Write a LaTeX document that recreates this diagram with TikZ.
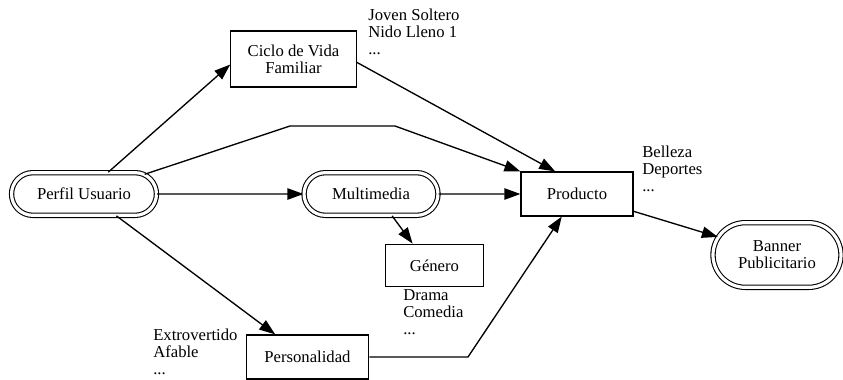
\documentclass[tikz,border=0pt]{standalone}
\usepackage{fontspec}
\setmainfont{Liberation Serif}
\usetikzlibrary{shapes.misc,arrows.meta}

\begin{document}
\begin{tikzpicture}[x=0.75pt,y=-0.75pt,
    font=\fontsize{12.5}{12.75}\selectfont,
    caja/.style={draw,line width=0.9pt,rectangle,align=center,inner sep=1pt},
    ovalo/.style={draw,line width=0.8pt,double,double distance=2.4pt,rounded rectangle,align=center,inner sep=1pt},
    flecha/.style={line width=1pt,-{Triangle[length=12pt,width=8.5pt]}},
    lista/.style={anchor=north west,align=left,inner sep=0pt}]
        \useasboundingbox (0,0) rectangle (843,379);
        % Nodos dobles
        \node[ovalo,minimum width=110.7pt,minimum height=32pt] (perfil) at (84,194) {Perfil Usuario};
        \node[ovalo,minimum width=102.5pt,minimum height=32pt] (multimedia) at (371,194) {Multimedia};
        \node[ovalo,minimum width=98pt,minimum height=48.5pt] (banner) at (777,255) {Banner\\Publicitario};
        % Cajas
        \node[caja,minimum width=94pt,minimum height=42pt] (ciclo) at (293.5,59) {Ciclo de Vida\\Familiar};
        \node[caja,minimum width=84pt,minimum height=33pt] (producto) at (577,194) {Producto};
        \node[caja,minimum width=73pt,minimum height=32pt] (genero) at (434.5,265.5) {Género};
        \node[caja,minimum width=92pt,minimum height=33pt] (personalidad) at (307.5,357) {Personalidad};
        % Valores
        \node[lista] (l_ciclo) at (368,9) {Joven Soltero\\Nido Lleno 1\\...};
        \node[lista] (l_producto) at (642,146) {Belleza\\Deportes\\...};
        \node[lista] (l_genero) at (403,289) {Drama\\Comedia\\...};
        \node[lista] (l_personalidad) at (153,329) {Extrovertido\\Afable\\...};
        % Quiebres
        \coordinate (q1) at (290,126);
        \coordinate (q2) at (395,126);
        \coordinate (q3) at (468,357);
        % Flechas
        \draw[flecha] (perfil.42) -- (ciclo.185);
        \draw[flecha] (perfil.18) -- (q1) -- (q2) -- (producto.north west);
        \draw[flecha] (ciclo.-3) -- (producto.134);
        \draw[flecha] (perfil) -- (multimedia);
        \draw[flecha] (multimedia) -- (producto);
        \draw[flecha] (multimedia.-46) -- (genero.135);
        \draw[flecha] (perfil.-34) -- (personalidad.145);
        \draw[flecha] (personalidad) -- (q3) -- (producto.-124);
        \draw[flecha] (producto.-17) -- (banner.163);
    \end{tikzpicture}
\end{document}
